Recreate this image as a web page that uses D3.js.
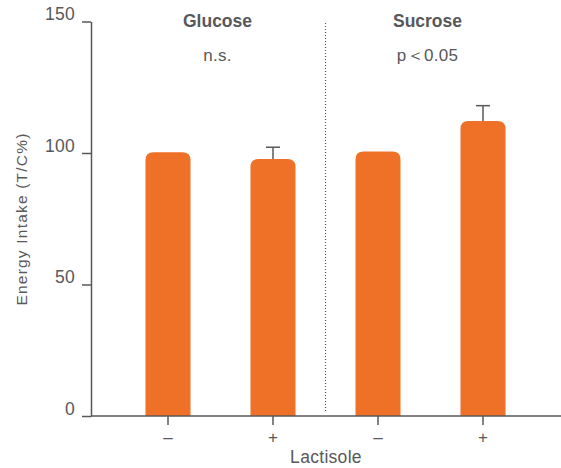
<!DOCTYPE html>
<html>
<head>
<meta charset="utf-8">
<script src="https://cdn.jsdelivr.net/npm/d3@7"></script>
<style>
  html, body { margin: 0; padding: 0; background: #fff; }
  svg { display: block; font-family: "Liberation Sans", Arial, sans-serif; }
</style>
</head>
<body>
<svg id="chart" width="561" height="468"></svg>
<script>
// Energy intake (T/C%) by sugar and lactisole condition
const conditions = ["glu-", "glu+", "suc-", "suc+"];
const lactisoleLabels = ["–", "+", "–", "+"];
const intake = [100.3, 97.7, 100.6, 112.2];
const errorUpper = [null, 102.2, null, 118.0];
const groups = ["Glucose", "Sucrose"];
const groupMembers = [["glu-", "glu+"], ["suc-", "suc+"]];
const significance = ["n.s.", "p＜0.05"];
const yTicks = [0, 50, 100, 150];

const svg = d3.select("#chart");
const ink = "#58585a";
const barColor = "#EE7127";
const font = "Liberation Sans, Arial, sans-serif";

const y = d3.scaleLinear().domain([0, 150]).range([416, 21.5]);
const x = d3.scaleBand()
  .domain(conditions)
  .range([115.5, 535.5])
  .paddingInner(0.571)
  .paddingOuter(0.2855);

// Bars with rounded tops
const r = 8;
function barPath(d, i) {
  const x0 = x(d), w = x.bandwidth();
  const y0 = y(0), y1 = y(intake[i]);
  return `M${x0},${y0}V${y1 + r}Q${x0},${y1} ${x0 + r},${y1}H${x0 + w - r}Q${x0 + w},${y1} ${x0 + w},${y1 + r}V${y0}Z`;
}
svg.append("g").selectAll("path")
  .data(conditions)
  .join("path")
  .attr("d", barPath)
  .attr("fill", barColor);

// Error bars (upper whisker only)
const eb = svg.append("g").attr("stroke", ink).attr("stroke-width", 1.5).attr("fill", "none");
conditions.forEach((c, i) => {
  if (errorUpper[i] == null) return;
  const cx = x(c) + x.bandwidth() / 2;
  eb.append("line").attr("x1", cx).attr("x2", cx).attr("y1", y(intake[i])).attr("y2", y(errorUpper[i]));
  eb.append("line").attr("x1", cx - 7).attr("x2", cx + 7).attr("y1", y(errorUpper[i])).attr("y2", y(errorUpper[i]));
});

// Y axis
const yAxis = svg.append("g")
  .attr("transform", "translate(91,0)")
  .call(d3.axisLeft(y).tickValues(yTicks).tickSize(9).tickPadding(7).tickSizeOuter(0));
yAxis.select(".domain").attr("stroke", ink).attr("stroke-width", 1.5);
yAxis.selectAll(".tick line").attr("stroke", ink).attr("stroke-width", 1.5);
yAxis.selectAll(".tick text")
  .attr("fill", ink).attr("font-size", 17.5)
  .attr("font-family", font)
  .attr("letter-spacing", 0.3)
  .attr("dy", "-0.1em");

// X axis
const xAxis = svg.append("g")
  .attr("transform", "translate(0,416)")
  .call(d3.axisBottom(x).tickSize(9).tickPadding(6).tickSizeOuter(0)
    .tickFormat((d, i) => lactisoleLabels[i]));
xAxis.select(".domain").attr("d", "M91,0H561").attr("stroke", ink).attr("stroke-width", 1.5);
xAxis.selectAll(".tick line").attr("stroke", ink).attr("stroke-width", 1.5);
xAxis.selectAll(".tick text")
  .attr("fill", ink).attr("font-size", 17)
  .attr("font-family", font);

// Group divider
const divX = (x("glu+") + x.bandwidth() + x("suc-")) / 2;
svg.append("line")
  .attr("x1", divX).attr("x2", divX)
  .attr("y1", 23).attr("y2", 413)
  .attr("stroke", ink).attr("stroke-width", 1.2)
  .attr("stroke-dasharray", "1,2");

// Group titles and significance
groups.forEach((g, i) => {
  const m = groupMembers[i];
  const cx = (x(m[0]) + x(m[1]) + x.bandwidth()) / 2 - 3;
  svg.append("text")
    .attr("x", cx).attr("y", 26.5)
    .attr("text-anchor", "middle")
    .attr("font-size", 17.5).attr("font-weight", "bold")
    .attr("fill", ink).text(g);
  svg.append("text")
    .attr("x", cx).attr("y", 61)
    .attr("text-anchor", "middle")
    .attr("font-size", 17)
    .attr("letter-spacing", 0.3)
    .attr("fill", ink).text(significance[i]);
});

// Axis titles
svg.append("text")
  .attr("transform", "translate(27,219) rotate(-90)")
  .attr("text-anchor", "middle")
  .attr("font-size", 15.5)
  .attr("letter-spacing", 1.2)
  .attr("fill", ink)
  .text("Energy Intake (T/C%)");

svg.append("text")
  .attr("x", 326).attr("y", 463)
  .attr("text-anchor", "middle")
  .attr("font-size", 17.5)
  .attr("letter-spacing", 0.3)
  .attr("fill", ink)
  .text("Lactisole");
</script>
</body>
</html>
